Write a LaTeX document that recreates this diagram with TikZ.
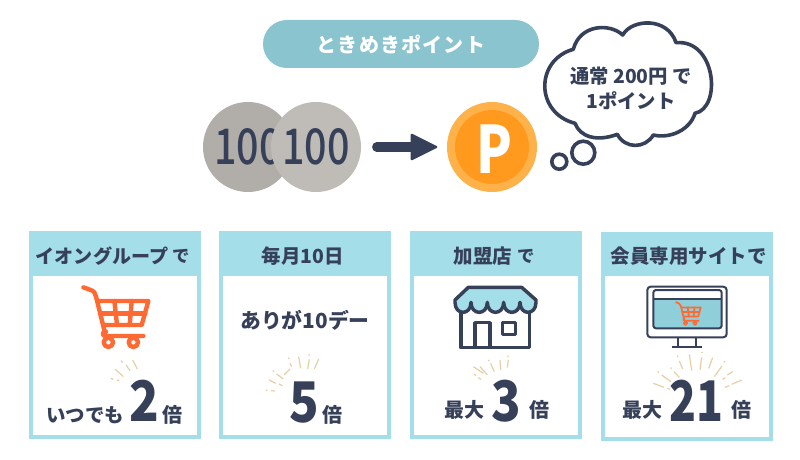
\documentclass[tikz,border=0pt]{standalone}
\usepackage{graphicx}
\usepackage{fontspec}
\setmainfont{Noto Sans CJK JP}
\newfontface\medf{Noto Sans CJK JP Medium}
\newfontface\blkf{Noto Sans CJK JP Black}
\usetikzlibrary{arrows.meta}
\definecolor{navy}{HTML}{364059}
\definecolor{pill}{HTML}{8AC4CF}
\definecolor{cardc}{HTML}{A3DEE9}
\definecolor{coina}{HTML}{B1AEAA}
\definecolor{coinb}{HTML}{BFBCB7}
\definecolor{pouter}{HTML}{FFB24A}
\definecolor{pinner}{HTML}{FF9A1E}
\definecolor{cartc}{HTML}{FF6A33}
\definecolor{burstc}{HTML}{E6CFA6}
\definecolor{screenc}{HTML}{8FCFDA}
\newcommand\fsz[1]{\fontsize{#1}{#1}\selectfont\bfseries}
\newcommand\narrow[2]{\scalebox{#1}[1]{#2}}
\tikzset{
  txt/.style={text=navy,inner sep=0pt,font=\fsz{14.6}},
  bignum/.style={text=navy,inner sep=0pt,font=\fontsize{42}{42}\selectfont\blkf},
  coinnode/.style={circle,minimum size=67.5pt,inner sep=0pt,text=navy,font=\fontsize{37}{37}\selectfont\medf},
  burstline/.style={burstc,line width=0.9pt},
}
\newcommand\card[8]{% name, x0,y0,x1,y1 outer, wx0,wx1, wy1
  \fill[cardc] (#2,#3) rectangle (#4,#5);
  \fill[white] (#6,276) rectangle (#7,#8);
}
\newcommand\cartdraw[4]{%
  \begin{scope}[shift={(#1,#2)},x=#3*0.75pt,y=-#3*0.75pt,cartc,line width=#4,line cap=round,line join=round]
    \draw (2,4) -- (24,12) .. controls (34,15) and (38,22) .. (40,32) -- (66,137);
    \draw (47,45) -- (197,45) -- (177,117) -- (66,117);
    \draw (95,45) -- (103,117);
    \draw (147,45) -- (141,117);
    \draw (56,82) -- (188,82);
    \draw (182,150) -- (70,150) .. controls (57,150) and (57,137) .. (70,137);
    \draw[fill=white] (77,169) circle (14);
    \draw[fill=white] (152,169) circle (14);
  \end{scope}}
\begin{document}
\begin{tikzpicture}[x=0.75pt,y=-0.75pt]
\useasboundingbox (0,0) rectangle (800,460);
\fill[white] (0,0) rectangle (800,460);

% title pill
\node[fill=pill,rounded corners=18pt,minimum width=207pt,minimum height=36pt,inner sep=0pt,text=white,font=\fsz{15}] (title) at (401,44) {\addfontfeature{LetterSpace=6}ときめきポイント};

% coins
\node[coinnode,fill=coina] (coinA) at (248,147) {\narrow{.8}{100}};
\node[coinnode,fill=coinb] (coinB) at (316,147) {\narrow{.8}{100}};
\node[circle,minimum size=67.5pt,inner sep=0pt,fill=pouter] (coinP) at (492,147) {};
\node[circle,minimum size=55.5pt,inner sep=0pt,fill=pinner] (coinPi) at (492,147) {};
\node[inner sep=0pt,text=white,font=\fontsize{49}{49}\selectfont\bfseries] (pletter) at (494,149) {\narrow{.8}{P}};
\draw[navy,line width=6.8pt,line cap=round,shorten <=11.5pt,shorten >=13pt,
  -{Triangle[length=21pt,width=20.5pt,round,line width=1.5pt]}] (coinB) -- (coinPi);

% cloud
\draw[navy,line width=2.7pt,fill=white,line join=round] (622.7,35)
  .. controls (632,18.5) and (668,17) .. (676,42.7)
  .. controls (716,39) and (722,108) .. (695,113.3)
  .. controls (690,130) and (670,139) .. (653.3,135)
  .. controls (645,149) and (625,149) .. (617.3,134.3)
  .. controls (597,142) and (580,137) .. (575,123.3)
  .. controls (535,113) and (535,60) .. (573.3,49.3)
  .. controls (580,24) and (610,23) .. (622.7,35) -- cycle;
\draw[navy,line width=2.7pt] (583.3,152.7) circle (11.5);
\draw[navy,line width=2.7pt] (559.3,161.7) circle (7.5);
\node[txt,font=\fsz{14.5}] (cl1) at (631,76) {通常 200円 で};
\node[txt,font=\fsz{14.5}] (cl2) at (631,101) {1ポイント};

% cards
\card{a}{28.7}{231}{201}{439}{32.7}{196.7}{435.3}
\card{b}{219.3}{231}{391.3}{439}{223}{387.3}{435.3}
\card{c}{410}{231}{582}{439}{414}{578}{435.3}
\card{d}{600.7}{232.3}{773}{440.7}{604.7}{769}{436.7}

% headings
\node[txt,font=\fsz{14.3}] (h1) at (102,256) {イオングループ};
\node[txt,font=\fsz{13}] (h1b) at (181,256) {で};
\node[txt] (h2) at (302.7,256) {毎月10日};
\node[txt] (h3) at (483,256) {加盟店};
\node[txt,font=\fsz{13}] (h3b) at (526,256) {で};
\node[txt] (h4) at (688.7,256) {会員専用サイトで};

% card 1
\cartdraw{82.7}{286}{1/3}{3.3pt}
\foreach \a/\b/\c/\d in {272/460/280/463, 290/465/297/467, 286/433/310/455, 303/407/308/412, 318/420/330/437, 338/405/352/432}
  \draw[burstline] (20+\a/3,225+\b/3) -- (20+\c/3,225+\d/3);
\node[txt] (t1) at (85,415) {いつでも};
\node[bignum] (n1) at (144.3,401) {\narrow{.87}{2}};
\node[txt,font=\fsz{15}] (b1) at (172.5,415) {倍};

% card 2
\node[txt,font=\fsz{15.6}] (t2) at (305,320) {ありが10デー};
\foreach \a/\b/\c/\d in {167/495/172/496, 183/497/195/498, 177/465/197/475, 207/477/217/482, 188/437/192/440, 200/447/220/462, 235/398/238/402, 240/415/245/425, 240/432/222/450, 266/395/272/430, 297/388/298/392, 298/403/293/432, 326/402/313/432}
  \draw[burstline] (210+\a/3,225+\b/3) -- (210+\c/3,225+\d/3);
\node[bignum] (n2) at (304,403) {\narrow{.87}{5}};
\node[txt,font=\fsz{15}] (b2) at (332.5,415) {倍};

% card 3: store
\begin{scope}[shift={(400,225)},x=0.25pt,y=-0.25pt,line join=round]
  \draw[navy,line width=2.6pt,fill=white] (183,250) -- (183,368) -- (388,368) -- (388,250);
  \draw[navy,line width=2.6pt] (225,368) -- (225,293) -- (270,293) -- (270,368);
  \draw[navy,line width=2.6pt] (307,292) rectangle (347,328);
  \draw[navy,line width=2.6pt,fill=cardc] (205,187) -- (365,187) -- (408,225)
    -- (408,232) .. controls (408,272) and (360,272) .. (360,232)
    .. controls (360,272) and (311,272) .. (311,232)
    .. controls (311,272) and (262,272) .. (262,232)
    .. controls (262,272) and (213,272) .. (213,232)
    .. controls (213,272) and (165,272) .. (165,232)
    -- (165,225) -- cycle;
\end{scope}
\foreach \a/\b/\c/\d in {222/447/228/452, 235/458/243/463, 220/425/250/445, 240/425/262/450, 265/405/268/408, 272/415/283/440, 300/405/302/435, 323/392/325/396, 325/405/322/428}
  \draw[burstline] (400+\a/3,225+\b/3) -- (400+\c/3,225+\d/3);
\node[txt,font=\fsz{15}] (t3) at (464,410) {最大};
\node[bignum] (n3) at (506,401.5) {\narrow{.87}{3}};
\node[txt,font=\fsz{15}] (b3) at (539,410) {倍};

% card 4: monitor
\begin{scope}[shift={(590,225)},x=0.25pt,y=-0.25pt,line join=round]
  \draw[navy,line width=1.5pt,fill=white,rounded corners=2.5pt] (172,185) rectangle (410,337);
  \draw[fill=screenc,draw=none,rounded corners=2pt] (190,195) rectangle (395,310);
  \draw[fill=white,draw=none,rounded corners=2pt] (190,195) rectangle (395,222);
  \draw[navy,line width=1.5pt,rounded corners=2pt] (190,195) rectangle (395,310);
  \draw[navy,line width=1.5pt] (190,222) -- (395,222);
  \draw[navy,line width=1.5pt] (263,337) -- (263,365);
  \draw[navy,line width=1.5pt] (318,337) -- (318,365);
  \draw[navy,line width=1.5pt] (245,367) -- (335,367);
\end{scope}
\cartdraw{675.7}{301.7}{0.127}{1.3pt}
\foreach \a/\b/\c/\d in {190/475/222/487, 232/490/240/493, 203/440/207/443, 215/450/243/470, 242/428/245/431, 252/440/268/457, 262/392/264/396, 268/408/278/432, 298/388/305/437, 336/380/336/385, 335/397/330/435, 368/398/356/430, 405/408/402/412, 396/423/373/455, 428/440/412/450, 405/458/398/463, 455/465/425/478, 418/482/405/487}
  \draw[burstline] (590+\a/3,225+\b/3) -- (590+\c/3,225+\d/3);
\node[txt,font=\fsz{15}] (t4) at (642,410) {最大};
\node[bignum] (n4) at (696.5,400.5) {\narrow{.79}{21}};
\node[txt,font=\fsz{15}] (b4) at (741,410) {倍};
\end{tikzpicture}
\end{document}
